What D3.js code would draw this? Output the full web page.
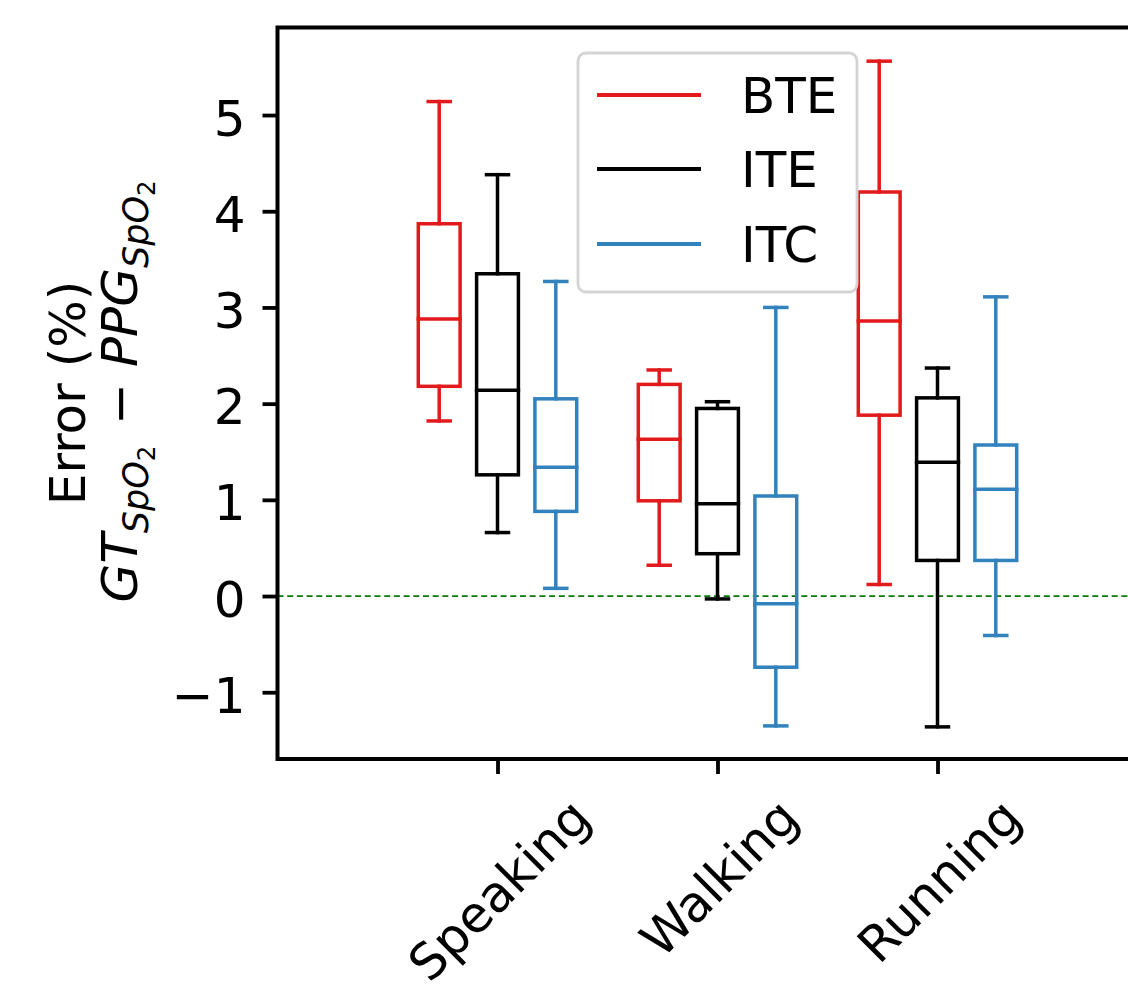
<!DOCTYPE html>
<html>
<head>
<meta charset="utf-8">
<script src="https://cdnjs.cloudflare.com/ajax/libs/d3/7.8.5/d3.min.js"></script>
<style>
  body { margin: 0; background: #fff; }
  text { font-family: "DejaVu Sans", sans-serif; fill: #000; }
</style>
</head>
<body>
<div id="chart"></div>
<script>
var width = 1128,
    height = 994;

// categories and series
var categories = ["Speaking", "Walking", "Running"];
var series = ["BTE", "ITE", "ITC"];
var seriesColors = ["#e31a1c", "#000000", "#3182bd"];
var seriesOffset = [-0.265, 0, 0.265];

// [lower whisker, q1, median, q3, upper whisker] per category
var bteStats = [[1.82, 2.18, 2.88, 3.87, 5.14], [0.32, 0.99, 1.63, 2.20, 2.35], [0.12, 1.88, 2.86, 4.20, 5.56]];
var iteStats = [[0.66, 1.26, 2.14, 3.35, 4.38], [-0.03, 0.44, 0.96, 1.95, 2.02], [-1.36, 0.37, 1.39, 2.06, 2.37]];
var itcStats = [[0.08, 0.88, 1.34, 2.05, 3.27], [-1.35, -0.74, -0.08, 1.04, 3.00], [-0.41, 0.37, 1.11, 1.57, 3.11]];
var allStats = [bteStats, iteStats, itcStats];

var yTicks = [-1, 0, 1, 2, 3, 4, 5];
var yDomain = [-1.694, 5.91];
var xDomain = [0, 4];

var svg = d3.select("#chart").append("svg")
    .attr("width", width)
    .attr("height", height);

svg.append("rect")
    .attr("width", width)
    .attr("height", height)
    .attr("fill", "#fff");

var plotLeft = 277.5, plotTop = 27.5, plotBottom = 759;

var x = d3.scaleLinear().domain(xDomain).range([plotLeft, plotLeft + 880]);
var y = d3.scaleLinear().domain(yDomain).range([plotBottom, plotTop]);

var boxW = 0.19, capW = 0.1, lw = 3.5;

// zero reference line
svg.append("line")
    .attr("x1", x(xDomain[0])).attr("x2", x(xDomain[1]))
    .attr("y1", y(0)).attr("y2", y(0))
    .attr("stroke", "#0a7a0a")
    .attr("stroke-width", 1.7)
    .attr("stroke-dasharray", "6,3.7");

// boxes
series.forEach(function(s, si) {
    var g = svg.append("g")
        .attr("class", "box-" + s)
        .attr("stroke", seriesColors[si])
        .attr("stroke-width", lw)
        .attr("stroke-linecap", "square")
        .attr("fill", "none");

    var stats = allStats[si];
    stats.forEach(function(d, ci) {
        var cx = x(ci + 1 + seriesOffset[si]);
        var hw = (x(boxW) - x(0)) / 2;
        var cw = (x(capW) - x(0)) / 2;
        // whiskers
        g.append("line").attr("x1", cx).attr("x2", cx).attr("y1", y(d[0])).attr("y2", y(d[1]));
        g.append("line").attr("x1", cx).attr("x2", cx).attr("y1", y(d[3])).attr("y2", y(d[4]));
        // caps
        g.append("line").attr("x1", cx - cw).attr("x2", cx + cw).attr("y1", y(d[0])).attr("y2", y(d[0]));
        g.append("line").attr("x1", cx - cw).attr("x2", cx + cw).attr("y1", y(d[4])).attr("y2", y(d[4]));
        // box
        g.append("rect")
            .attr("x", cx - hw)
            .attr("y", y(d[3]))
            .attr("width", hw * 2)
            .attr("height", y(d[1]) - y(d[3]));
        // median
        g.append("line").attr("x1", cx - hw).attr("x2", cx + hw).attr("y1", y(d[2])).attr("y2", y(d[2]));
    });
});

// spines
svg.append("rect")
    .attr("x", plotLeft).attr("y", plotTop)
    .attr("width", 880).attr("height", plotBottom - plotTop)
    .attr("fill", "none")
    .attr("stroke", "#000")
    .attr("stroke-width", 4);

// y axis
var yAxis = svg.append("g")
    .attr("transform", "translate(" + plotLeft + ",0)")
    .call(d3.axisLeft(y).tickValues(yTicks).tickSize(15).tickPadding(17)
        .tickFormat(function(d) { return d < 0 ? "\u2212" + Math.abs(d) : d; }));
yAxis.select(".domain").remove();
yAxis.selectAll(".tick line").attr("stroke", "#000").attr("stroke-width", 3.8);
yAxis.selectAll(".tick text")
    .attr("font-size", 50)
    .attr("font-family", "DejaVu Sans")
    .attr("dy", "0.4em");

// x axis ticks
var xAxis = svg.append("g")
    .attr("transform", "translate(0," + plotBottom + ")")
    .call(d3.axisBottom(x).tickValues([1, 2, 3]).tickSize(15).tickFormat(""));
xAxis.select(".domain").remove();
xAxis.selectAll(".tick line").attr("stroke", "#000").attr("stroke-width", 3.8);

// x tick labels rotated 45
var labelTop = 788;
categories.forEach(function(c, i) {
    var t = svg.append("text")
        .attr("font-size", 50)
        .attr("text-anchor", "middle")
        .text(c);
    var b = t.node().getBBox();
    t.attr("y", -(b.y + b.height / 2));
    var H = (b.width + b.height) * Math.SQRT1_2;
    t.attr("transform", "translate(" + (x(i + 1) + 2) + "," + (labelTop + H / 2) + ") rotate(-45)");
});

// y label
var ylab = svg.append("g").attr("transform", "translate(0,393)");
ylab.append("text")
    .attr("transform", "translate(85,0) rotate(-90)")
    .attr("text-anchor", "middle")
    .attr("font-size", 50)
    .text("Error (%)");

var math = ylab.append("text")
    .attr("transform", "translate(137,-4) rotate(-90)")
    .attr("text-anchor", "middle")
    .attr("font-size", 50);

function addTerm(name) {
    math.append("tspan").attr("font-style", "italic").text(name);
    math.append("tspan").attr("font-style", "italic").attr("font-size", 35).attr("dy", 11).text("SpO");
    math.append("tspan").attr("font-size", 24.5).attr("dy", 7).text("2");
    math.append("tspan").attr("font-size", 50).attr("dy", -18).text("\u200a");
}
addTerm("GT");
math.append("tspan").text(" \u2212 ");
addTerm("PPG");

// legend
var legend = svg.append("g").attr("transform", "translate(578,53)");
legend.append("rect")
    .attr("width", 279)
    .attr("height", 239)
    .attr("rx", 8)
    .attr("fill", "#fff")
    .attr("fill-opacity", 0.8)
    .attr("stroke", "#d4d4d4")
    .attr("stroke-width", 2.8);

var legY = [42, 116, 191];
series.forEach(function(s, i) {
    legend.append("line")
        .attr("x1", 19).attr("x2", 123)
        .attr("y1", legY[i]).attr("y2", legY[i])
        .attr("stroke", seriesColors[i])
        .attr("stroke-width", 3.8);
    legend.append("text")
        .attr("x", 163)
        .attr("y", legY[i] + 18)
        .attr("font-size", 50)
        .text(s);
});
</script>
</body>
</html>
